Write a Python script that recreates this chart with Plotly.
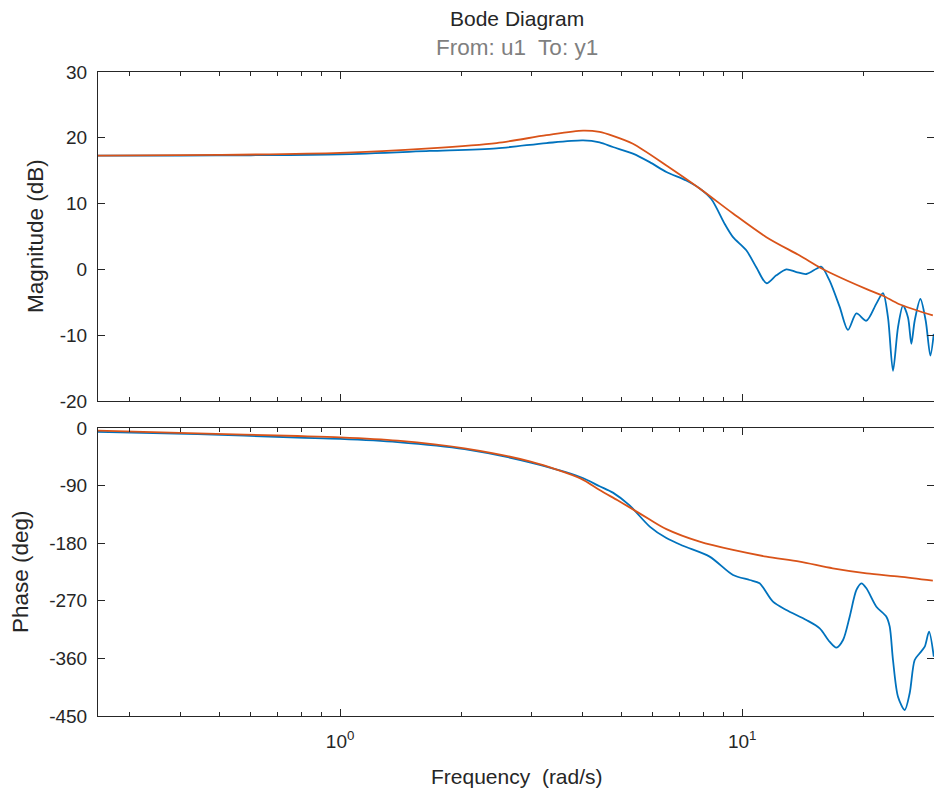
import math
import plotly.graph_objects as go

# ---------------- data ----------------
# Magnitude, measured response (blue)
mag_meas_freq = [0.25, 0.4, 0.6, 1.0, 1.67, 2.45, 3.26, 4.02, 4.42, 4.77, 5.35, 5.89,
                 6.48, 7.26, 7.84, 8.38, 9.05, 9.49, 10.24, 10.85, 11.49, 12.16, 12.88,
                 13.64, 14.44, 15.3, 15.74, 16.5, 17.48, 18.33, 19.24, 20.37, 21.57,
                 22.4, 23.05, 23.72, 24.41, 25.12, 25.85, 26.35, 26.86, 27.75, 28.61,
                 29.38, 29.96]
mag_meas_db = [17.3, 17.3, 17.35, 17.5, 18.0, 18.4, 19.2, 19.6, 19.3, 18.6, 17.6, 16.3,
               14.8, 13.5, 12.3, 10.7, 6.9, 4.9, 2.9, 0.3, -2.1, -0.9, 0.0,
               -0.4, -0.7, 0.1, 0.4, -1.7, -5.7, -9.2, -6.7, -7.8, -5.2,
               -3.6, -7.3, -15.4, -8.8, -5.5, -7.3, -11.3, -7.8, -4.5, -7.8,
               -13.1, -9.8]

# Magnitude, model (orange)
mag_model_freq = [0.25, 0.5, 1.0, 1.67, 2.45, 3.26, 4.02, 4.42, 4.77, 5.35, 6.48, 7.84,
                  9.49, 11.49, 13.9, 15.6, 16.8, 20.4, 22.4, 24.6, 29.8]
mag_model_db = [17.3, 17.4, 17.7, 18.4, 19.2, 20.4, 21.1, 20.9, 20.3, 19.1, 15.8, 12.3,
                8.5, 4.9, 2.1, 0.3, -0.7, -3.0, -4.0, -5.3, -7.0]

# Phase, measured response (blue)
ph_meas_freq = [0.25, 0.442, 0.784, 1.0, 1.39, 2.04, 2.98, 3.97, 4.42, 4.77, 5.25, 5.89,
                6.48, 7.12, 8.3, 9.49, 10.44, 11.05, 11.93, 12.88, 14.44, 15.59, 16.5,
                17.15, 17.82, 18.51, 19.24, 19.8, 20.37, 21.57, 22.84, 23.28, 23.72,
                24.41, 25.37, 26.1, 26.86, 27.64, 28.45, 29.16, 29.96]
ph_meas_deg = [-6, -9.5, -15, -17, -22, -33, -54, -77, -91, -101, -121, -154,
               -172, -184, -201, -229.7, -237.5, -242.7, -271.4, -284.4, -300, -313, -333.9,
               -343.2, -331.3, -294.8, -253.1, -242.7, -250.5, -279.2, -294.8, -310.4, -362.5,
               -419.8, -440.6, -414.5, -362.5, -352, -341.7, -318.3, -357.3]

# Phase, model (orange)
ph_model_freq = [0.25, 0.442, 0.784, 1.0, 1.39, 2.04, 2.98, 3.97, 4.42, 4.9, 5.25, 5.89,
                 6.48, 7.84, 9.49, 11.49, 13.9, 16.8, 20.4, 24.6, 29.8]
ph_model_deg = [-4.2, -8.3, -12.5, -14.6, -19.8, -31.8, -52.6, -79, -97, -113, -124, -143,
                -158, -177.6, -190.6, -201.0, -208.9, -219.3, -227.1, -232.3, -238.6]

# axis ticks
freq_range = [0.25, 30]
x_major = [1, 10]
x_major_text = ["10<sup>0</sup>", "10<sup>1</sup>"]
x_minor = [0.3, 0.4, 0.5, 0.6, 0.7, 0.8, 0.9, 2, 3, 4, 5, 6, 7, 8, 9, 20, 30]
mag_ticks = [-20, -10, 0, 10, 20, 30]
ph_ticks = [-450, -360, -270, -180, -90, 0]

# ---------------- figure ----------------
W, H = 934, 790
BLUE = "#0072BD"
ORANGE = "#D95319"
AX = "#262626"
FONT = "Liberation Sans, Arial, Helvetica, sans-serif"

fig = go.Figure()
common = dict(mode="lines", line_shape="spline", showlegend=False, hoverinfo="skip")
fig.add_trace(go.Scatter(x=mag_meas_freq, y=mag_meas_db, line=dict(color=BLUE, width=1.8, smoothing=0.8),
                         xaxis="x", yaxis="y", **common))
fig.add_trace(go.Scatter(x=mag_model_freq, y=mag_model_db, line=dict(color=ORANGE, width=1.8, smoothing=0.8),
                         xaxis="x", yaxis="y", **common))
fig.add_trace(go.Scatter(x=ph_meas_freq, y=ph_meas_deg, line=dict(color=BLUE, width=1.8, smoothing=0.8),
                         xaxis="x2", yaxis="y2", **common))
fig.add_trace(go.Scatter(x=ph_model_freq, y=ph_model_deg, line=dict(color=ORANGE, width=1.8, smoothing=0.8),
                         xaxis="x2", yaxis="y2", **common))

x_dom = [98 / W, 1.0]
top_dom = [1 - 401 / H, 1 - 72 / H]
bot_dom = [1 - 716 / H, 1 - 428 / H]

def xaxis_cfg(anchor, labels):
    return dict(
        domain=x_dom, anchor=anchor, type="log",
        range=[math.log10(freq_range[0]), math.log10(freq_range[1])],
        showline=True, linecolor=AX, linewidth=1, mirror="ticks",
        ticks="inside", ticklen=7, tickwidth=1, tickcolor=AX,
        tickmode="array", tickvals=x_major, ticktext=x_major_text,
        showticklabels=labels, ticklabelstandoff=8,
        minor=dict(ticks="inside", ticklen=4, tickwidth=1, tickcolor=AX,
                   tickmode="array", tickvals=x_minor, showgrid=False),
        showgrid=False, zeroline=False, automargin=False,
        tickfont=dict(family=FONT, size=19, color=AX),
    )

def yaxis_cfg(anchor, dom, rng, vals):
    return dict(
        domain=dom, anchor=anchor, range=rng,
        showline=True, linecolor=AX, linewidth=1, mirror="ticks",
        ticks="inside", ticklen=7, tickwidth=1, tickcolor=AX,
        tickmode="array", tickvals=vals, ticktext=[str(v) for v in vals],
        showgrid=False, zeroline=False, automargin=False, ticklabelstandoff=6,
        tickfont=dict(family=FONT, size=19, color=AX),
    )

fig.update_layout(
    width=W, height=H,
    margin=dict(l=0, r=0, t=0, b=0),
    paper_bgcolor="white", plot_bgcolor="white",
    xaxis=xaxis_cfg("y", False),
    yaxis=yaxis_cfg("x", top_dom, [-20, 30], mag_ticks),
    xaxis2=xaxis_cfg("y2", True),
    yaxis2=yaxis_cfg("x2", bot_dom, [-450, 0], ph_ticks),
    showlegend=False,
)

def px_ann(text, xc, yc, size, color=AX, angle=0):
    fig.add_annotation(text=text, x=xc / W, y=1 - yc / H, xref="paper", yref="paper",
                       showarrow=False, textangle=angle, xanchor="center", yanchor="middle",
                       font=dict(family=FONT, size=size, color=color))

px_ann("Bode Diagram", 517, 18, 21)
px_ann("From: u1  To: y1", 517, 48, 22.5, color="#7F7F7F")
px_ann("Magnitude (dB)", 35, 236, 22.5, angle=-90)
px_ann("Phase (deg)", 20, 572, 22.5, angle=-90)
px_ann("Frequency  (rad/s)", 517, 776, 21)

fig.write_html("out.html", config={"displayModeBar": False},
               post_script="document.body.style.margin='0';document.body.style.overflow='hidden';")
